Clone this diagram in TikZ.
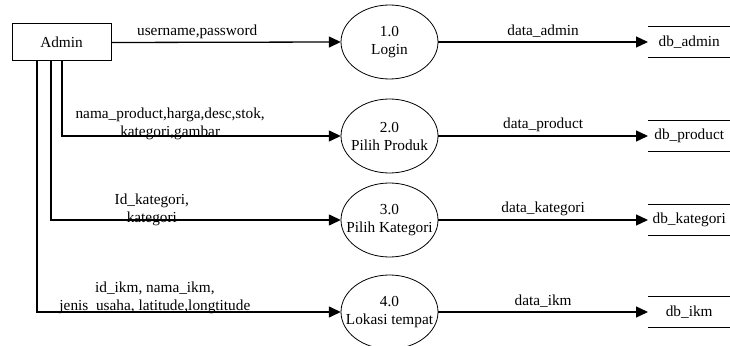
\documentclass[tikz,border=0pt]{standalone}
\usepackage{fontspec}
\setmainfont{Liberation Serif}
\usetikzlibrary{arrows.meta}
\usetikzlibrary{shapes}

\begin{document}
\begin{tikzpicture}[x=1pt, y=1pt, font=\fontsize{15.3}{18}\selectfont,
    entity/.style={draw, line width=1pt, minimum width=99pt, minimum height=37pt, inner sep=0pt},
    process/.style={minimum width=97pt, minimum height=74pt, inner sep=0pt, align=center},
    store/.style={minimum width=82pt, minimum height=31pt, inner sep=0pt, anchor=west},
    flow/.style={line width=1.3pt, -{Triangle[length=12pt, width=11pt]}},
    lbl/.style={anchor=center, align=center, inner sep=0pt}]
    \useasboundingbox (0,0) rectangle (730,345);
    % external entity
    \node[entity] (admin) at (61.5,302.5) {Admin};
    % processes
    \node[process] (login) at (389.5,303) {1.0\\Login};
    \node[process] (produk) at (389.5,209) {2.0\\Pilih Produk};
    \node[process] (kategori) at (389.5,125) {3.0\\Pilih Kategori};
    \node[process] (lokasi) at (389.5,33) {4.0\\Lokasi tempat};
    \foreach \p in {login,produk,kategori,lokasi}
        \draw[line width=0.8pt] (\p.center) ellipse (48.5 and 37);
    % data stores
    \node[store] (dbadmin) at (648,303) {db\_admin};
    \node[store] (dbproduct) at (648,209) {db\_product};
    \node[store] (dbkategori) at (648,125) {db\_kategori};
    \node[store] (dbikm) at (648,33) {db\_ikm};
    \foreach \s in {dbadmin,dbproduct,dbkategori,dbikm}{
        \draw[line width=1pt] (\s.north west) -- ++(90,0);
        \draw[line width=1pt] (\s.south west) -- ++(90,0);
    }
    % flows from admin
    \draw[flow] (admin.east) -- (login.west)
        node[lbl, pos=0.374, yshift=10pt] {username,password};
    \draw[flow] ([xshift=0.5pt]admin.south) |- (produk.west)
        node[lbl, pos=0.694, yshift=12.5pt] {nama\_product,harga,desc,stok,\\kategori,gambar};
    \draw[flow] ([xshift=-10.5pt]admin.south) |- (kategori.west)
        node[lbl, pos=0.674, yshift=10.5pt] {Id\_kategori,\\kategori};
    \draw[flow] ([xshift=-24.5pt]admin.south) |- (lokasi.west)
        node[lbl, pos=0.694, yshift=14pt] {id\_ikm, nama\_ikm,\\jenis\_usaha, latitude,longtitude};
    % flows to stores
    \draw[flow] (login.east) -- (dbadmin.west) node[lbl, midway, yshift=11pt] {data\_admin};
    \draw[flow] (produk.east) -- (dbproduct.west) node[lbl, midway, yshift=11pt] {data\_product};
    \draw[flow] (kategori.east) -- (dbkategori.west) node[lbl, midway, yshift=11pt] {data\_kategori};
    \draw[flow] (lokasi.east) -- (dbikm.west) node[lbl, midway, yshift=11pt] {data\_ikm};
\end{tikzpicture}
\end{document}
